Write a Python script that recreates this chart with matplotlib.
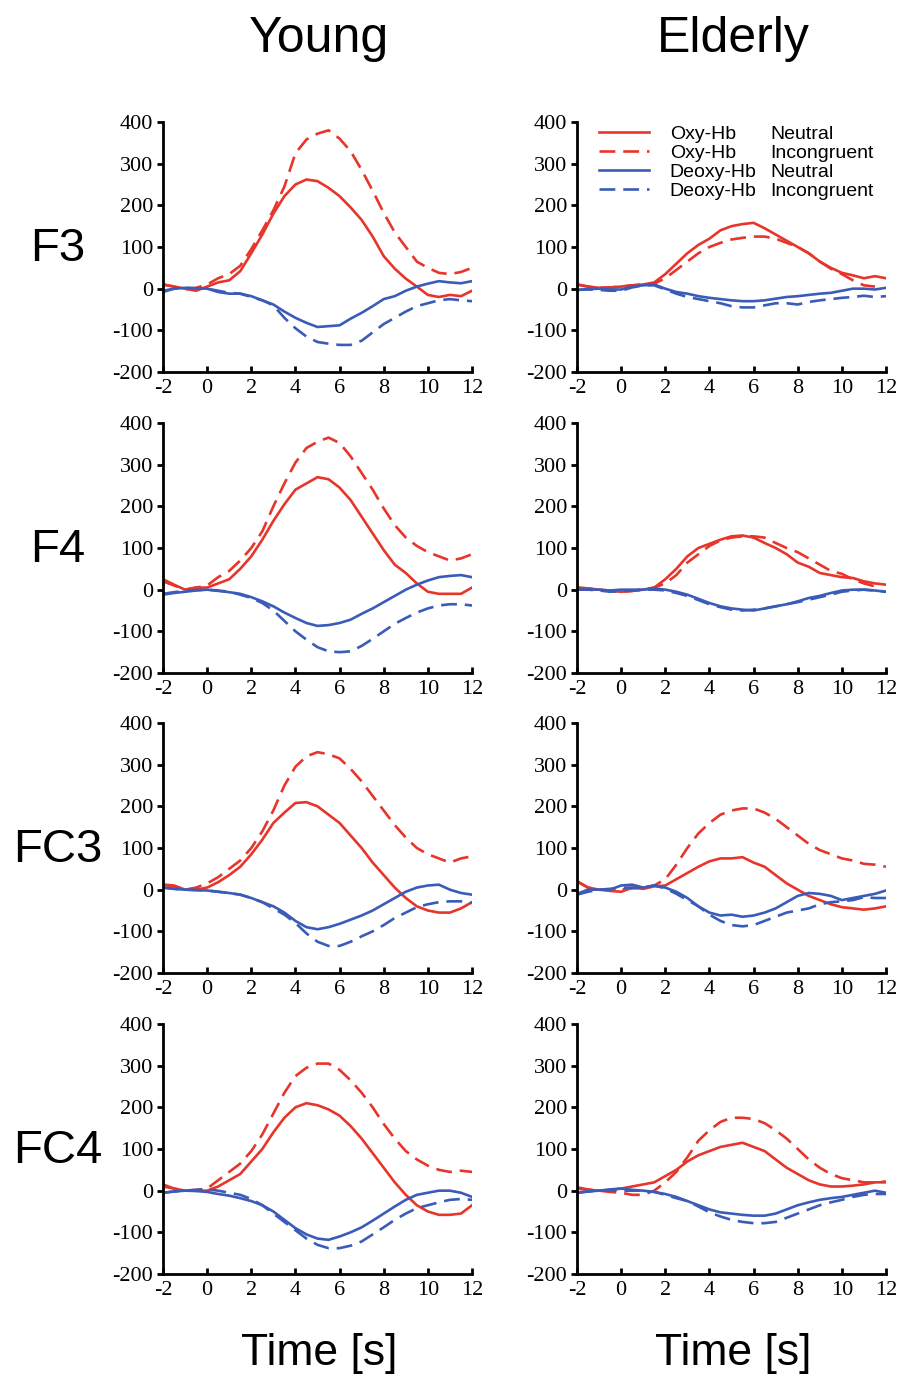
import numpy as np
import matplotlib
matplotlib.use("Agg")
import matplotlib.pyplot as plt
from matplotlib.lines import Line2D

plt.rcParams['axes.unicode_minus'] = False

# time axis, -2 .. 12 s in 0.5 s steps
t = np.arange(-2, 12.5, 0.5)

# ---- Young ----
young_f3_oxy_n = [10, 5, 0, -5, 5, 15, 20, 42, 85, 130, 180, 222, 250, 262, 258, 242, 222, 195, 165, 125, 78, 48, 24, 5, -15, -20, -15, -18, -5]
young_f3_oxy_i = [10, 5, -2, 2, 10, 25, 35, 55, 95, 140, 188, 245, 325, 358, 372, 380, 360, 330, 285, 235, 182, 135, 100, 65, 50, 38, 35, 40, 50]
young_f3_deo_n = [-8, 0, 2, 1, 0, -8, -12, -12, -18, -28, -38, -55, -70, -82, -92, -90, -88, -72, -58, -42, -25, -18, -5, 5, 12, 18, 15, 13, 18]
young_f3_deo_i = [-5, 0, 2, 1, 0, -5, -10, -12, -20, -28, -40, -70, -95, -115, -128, -132, -135, -135, -125, -105, -85, -70, -55, -42, -35, -28, -25, -28, -30]

young_f4_oxy_n = [25, 12, 0, 5, 5, 15, 25, 50, 80, 120, 165, 205, 240, 255, 270, 265, 245, 215, 175, 135, 95, 60, 40, 15, -5, -10, -10, -10, 5]
young_f4_oxy_i = [20, 10, 0, 5, 10, 30, 45, 70, 100, 140, 200, 255, 305, 340, 355, 365, 352, 320, 280, 240, 195, 155, 125, 105, 90, 80, 70, 75, 85]
young_f4_deo_n = [-12, -8, -5, -2, 0, -3, -6, -10, -18, -28, -40, -55, -68, -80, -87, -85, -80, -72, -58, -45, -30, -15, 0, 12, 22, 30, 33, 35, 30]
young_f4_deo_i = [-10, -6, -3, -1, 0, -2, -5, -12, -20, -32, -50, -75, -100, -120, -138, -148, -150, -148, -135, -118, -100, -82, -68, -55, -45, -38, -35, -35, -38]

young_fc3_oxy_n = [12, 10, 0, 0, 5, 18, 35, 55, 85, 120, 160, 185, 208, 210, 200, 180, 160, 130, 100, 65, 35, 5, -20, -40, -50, -55, -55, -45, -30]
young_fc3_oxy_i = [12, 8, 0, 5, 15, 30, 50, 70, 100, 140, 190, 250, 295, 320, 330, 325, 315, 290, 260, 225, 190, 155, 125, 100, 85, 75, 65, 75, 80]
young_fc3_deo_n = [5, 2, 0, -1, -2, -5, -8, -12, -20, -30, -40, -55, -75, -90, -95, -90, -82, -72, -62, -50, -35, -20, -5, 5, 10, 12, 0, -8, -12]
young_fc3_deo_i = [5, 2, 0, -1, -2, -5, -8, -12, -20, -30, -45, -60, -80, -105, -125, -135, -135, -125, -112, -100, -85, -68, -55, -42, -35, -30, -28, -28, -32]

young_fc4_oxy_n = [15, 5, 0, 0, 0, 10, 25, 40, 70, 100, 140, 175, 200, 210, 205, 195, 180, 155, 125, 90, 55, 20, -10, -35, -50, -58, -58, -55, -35]
young_fc4_oxy_i = [10, 5, 0, 2, 5, 25, 45, 65, 95, 135, 185, 235, 275, 295, 305, 305, 290, 265, 235, 200, 160, 125, 95, 75, 60, 50, 45, 48, 45]
young_fc4_deo_n = [-5, -2, 0, -1, -3, -8, -12, -18, -25, -35, -50, -70, -90, -105, -115, -118, -110, -100, -88, -72, -55, -38, -22, -10, -5, 0, 0, -5, -15]
young_fc4_deo_i = [-5, -2, 0, 2, 3, 0, -5, -10, -20, -35, -55, -75, -95, -115, -130, -138, -138, -132, -122, -105, -88, -70, -55, -42, -35, -28, -22, -20, -22]

# ---- Elderly ----
old_f3_oxy_n = [10, 5, 2, 3, 5, 8, 10, 15, 35, 60, 85, 105, 120, 140, 150, 155, 158, 145, 130, 115, 100, 85, 65, 50, 38, 32, 25, 30, 25]
old_f3_oxy_i = [10, 5, 2, 3, 5, 8, 10, 12, 25, 45, 65, 85, 100, 110, 118, 122, 125, 125, 120, 110, 100, 85, 65, 48, 35, 20, 8, 5, np.nan]
old_f3_deo_n = [-3, -1, 0, -2, -2, 5, 8, 10, 0, -8, -12, -18, -22, -25, -28, -30, -30, -28, -24, -20, -18, -15, -12, -10, -5, 0, 0, -2, 2]
old_f3_deo_i = [-3, -2, -3, -5, -5, 3, 8, 8, -2, -12, -20, -25, -30, -35, -42, -45, -45, -40, -35, -35, -38, -32, -28, -25, -22, -20, -17, -20, -18]

old_f4_oxy_n = [5, 3, 0, -3, -5, -3, 0, 5, 25, 50, 80, 100, 110, 120, 128, 130, 125, 112, 100, 85, 65, 55, 40, 35, 30, 28, 20, 15, 12]
old_f4_oxy_i = [5, 3, 0, -3, -5, -3, 0, 5, 15, 35, 65, 85, 105, 118, 125, 128, 128, 125, 112, 100, 90, 75, 60, 45, 38, 25, 15, 8, np.nan]
old_f4_deo_n = [0, 0, 0, -2, 0, 0, 0, 3, 0, -5, -12, -22, -32, -40, -45, -48, -50, -45, -40, -35, -28, -20, -15, -8, -2, 0, 0, -2, -5]
old_f4_deo_i = [0, 0, -2, -5, -3, -2, 0, 0, -2, -8, -15, -25, -35, -42, -48, -50, -48, -45, -40, -35, -30, -24, -18, -12, -5, -2, 0, -2, -5]

old_fc3_oxy_n = [20, 5, 0, -3, -5, 5, 2, 8, 10, 25, 40, 55, 68, 75, 75, 78, 65, 55, 35, 15, 0, -15, -25, -35, -42, -45, -48, -45, -40]
old_fc3_oxy_i = [20, 5, 0, 0, 0, 3, 5, 10, 25, 60, 100, 135, 160, 180, 190, 195, 195, 185, 170, 150, 130, 110, 95, 85, 75, 70, 62, 60, 55]
old_fc3_deo_n = [-10, 0, 0, 0, 10, 12, 5, 10, 5, -5, -20, -40, -55, -62, -60, -65, -62, -55, -45, -30, -15, -8, -10, -15, -25, -20, -15, -10, -2]
old_fc3_deo_i = [-12, -5, 0, 2, 5, 5, 5, 10, 3, -10, -25, -40, -60, -75, -85, -88, -85, -75, -65, -55, -50, -45, -35, -30, -28, -25, -18, -20, -20]

old_fc4_oxy_n = [5, 2, 0, 2, 5, 10, 15, 20, 35, 50, 70, 85, 95, 105, 110, 115, 105, 95, 75, 55, 40, 25, 15, 10, 10, 12, 15, 20, 20]
old_fc4_oxy_i = [8, 3, 0, -3, -5, -10, -10, 0, 20, 45, 80, 120, 145, 165, 175, 175, 172, 162, 145, 125, 100, 75, 55, 40, 30, 25, 20, 20, 22]
old_fc4_deo_n = [-5, -2, 0, 3, 5, 2, 0, -3, -8, -15, -25, -35, -45, -52, -55, -58, -60, -60, -55, -45, -35, -28, -22, -18, -15, -10, -5, 0, -5]
old_fc4_deo_i = [-5, -2, 0, 0, 0, 0, 0, -3, -10, -18, -25, -38, -52, -62, -70, -75, -78, -78, -75, -65, -55, -45, -35, -28, -22, -15, -10, -8, -8]

channels = ['F3', 'F4', 'FC3', 'FC4']
groups = ['Young', 'Elderly']
panels = {
    ('Young', 'F3'): (young_f3_oxy_n, young_f3_oxy_i, young_f3_deo_n, young_f3_deo_i),
    ('Young', 'F4'): (young_f4_oxy_n, young_f4_oxy_i, young_f4_deo_n, young_f4_deo_i),
    ('Young', 'FC3'): (young_fc3_oxy_n, young_fc3_oxy_i, young_fc3_deo_n, young_fc3_deo_i),
    ('Young', 'FC4'): (young_fc4_oxy_n, young_fc4_oxy_i, young_fc4_deo_n, young_fc4_deo_i),
    ('Elderly', 'F3'): (old_f3_oxy_n, old_f3_oxy_i, old_f3_deo_n, old_f3_deo_i),
    ('Elderly', 'F4'): (old_f4_oxy_n, old_f4_oxy_i, old_f4_deo_n, old_f4_deo_i),
    ('Elderly', 'FC3'): (old_fc3_oxy_n, old_fc3_oxy_i, old_fc3_deo_n, old_fc3_deo_i),
    ('Elderly', 'FC4'): (old_fc4_oxy_n, old_fc4_oxy_i, old_fc4_deo_n, old_fc4_deo_i),
}

red = '#e8352b'
blue = '#3a5cb8'
dash = (0, (6, 3))
styles = [(red, '-'), (red, dash), (blue, '-'), (blue, dash)]

W, H = 899, 1375
fig = plt.figure(figsize=(W / 100, H / 100), dpi=100)

col_left = [163, 577]
row_top = [122, 423, 723, 1024]
ax_w, ax_h = 309, 250

sans = 'Liberation Sans'
serif = 'Liberation Serif'

axes = {}
for r, ch in enumerate(channels):
    for c, grp in enumerate(groups):
        ax = fig.add_axes([col_left[c] / W, 1 - (row_top[r] + ax_h) / H, ax_w / W, ax_h / H])
        for series, (col, ls) in zip(panels[(grp, ch)], styles):
            ax.plot(t, series, color=col, linestyle=ls, lw=1.9)
        ax.set_xlim(-2, 12)
        ax.set_ylim(-200, 400)
        ax.set_xticks(range(-2, 13, 2))
        ax.set_yticks(range(-200, 401, 100))
        for s in ['top', 'right']:
            ax.spines[s].set_visible(False)
        for s in ['left', 'bottom']:
            ax.spines[s].set_linewidth(2)
        ax.tick_params(axis='x', direction='in', length=4, width=2, pad=5)
        ax.tick_params(axis='y', direction='out', length=4, width=2, pad=3)
        for lab in ax.get_xticklabels() + ax.get_yticklabels():
            lab.set_fontfamily(serif)
            lab.set_fontsize(16)
        axes[(grp, ch)] = ax

# legend in Elderly / F3 panel
leg_ax = axes[('Elderly', 'F3')]
handles = [Line2D([], [], color=col, linestyle=ls, lw=1.9) for col, ls in styles]
blank = [Line2D([], [], color='none') for _ in range(4)]
labels = ['Oxy-Hb', 'Oxy-Hb', 'Deoxy-Hb', 'Deoxy-Hb', 'Neutral', 'Incongruent', 'Neutral', 'Incongruent']
leg_ax.legend(handles + blank, labels, ncol=2, loc='upper left', bbox_to_anchor=(0.032, 1.035),
              frameon=False, prop={'family': sans, 'size': 14}, handlelength=2.58,
              handletextpad=1.08, columnspacing=-2.95, labelspacing=0.08, borderaxespad=0.2)

# column titles, row labels, x labels
for c, grp in enumerate(groups):
    cx = (col_left[c] + 156) / W
    fig.text(cx, 1 - 52 / H, grp, ha='center', va='baseline', fontsize=36, family=sans)
    fig.text(cx, 1 - 1365 / H, 'Time [s]', ha='center', va='baseline', fontsize=32, family=sans)

for r, ch in enumerate(channels):
    fig.text(58 / W, 1 - (row_top[r] + 127) / H, ch, ha='center', va='center', fontsize=34, family=sans)

fig.savefig('out.png', dpi=100)
